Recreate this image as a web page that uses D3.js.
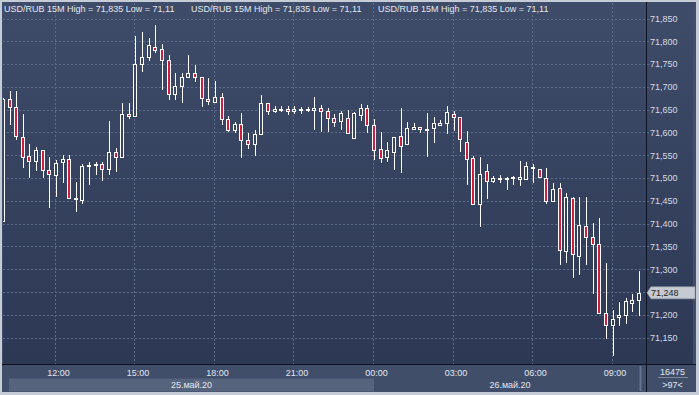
<!DOCTYPE html>
<html>
<head>
<meta charset="utf-8">
<script src="https://cdn.jsdelivr.net/npm/d3@7"></script>
<style>
  html, body { margin: 0; padding: 0; background: #c6ccd7; }
  svg { display: block; font-family: "Liberation Sans", Arial, sans-serif; }
</style>
</head>
<body>
<svg id="chart" width="699" height="395"></svg>
<script>
// 15 minute bars, first one at 10:00 on 25 May
const START = "2020-05-25T10:00";

const OPEN = [
  71.405, 71.673, 71.655, 71.591, 71.548, 71.537, 71.561, 71.517, 71.508, 71.534,
  71.541, 71.455, 71.452, 71.527, 71.527, 71.530, 71.519, 71.556, 71.545, 71.640,
  71.635, 71.750, 71.765, 71.788, 71.782, 71.758, 71.684, 71.702, 71.721, 71.730,
  71.721, 71.673, 71.668, 71.678, 71.629, 71.605, 71.618, 71.583, 71.575, 71.596,
  71.664, 71.646, 71.650, 71.651, 71.646, 71.651, 71.650, 71.649, 71.653, 71.646,
  71.631, 71.624, 71.631, 71.588, 71.637, 71.653, 71.616, 71.564, 71.545, 71.556,
  71.592, 71.574, 71.607, 71.611, 71.607, 71.609, 71.616, 71.620, 71.640, 71.633,
  71.580, 71.543, 71.444, 71.516, 71.492, 71.500, 71.501, 71.502, 71.498, 71.498,
  71.524, 71.519, 71.501, 71.450, 71.477, 71.340, 71.456, 71.330, 71.395, 71.371,
  71.355, 71.203, 71.177, 71.194, 71.199, 71.226, 71.232
];

const HIGH = [
  71.676, 71.691, 71.691, 71.640, 71.574, 71.569, 71.562, 71.546, 71.540, 71.550,
  71.550, 71.491, 71.530, 71.536, 71.536, 71.536, 71.625, 71.565, 71.664, 71.664,
  71.812, 71.821, 71.807, 71.835, 71.793, 71.771, 71.730, 71.731, 71.770, 71.748,
  71.722, 71.719, 71.713, 71.686, 71.635, 71.622, 71.643, 71.598, 71.605, 71.682,
  71.665, 71.658, 71.657, 71.657, 71.657, 71.655, 71.655, 71.678, 71.660, 71.653,
  71.640, 71.648, 71.649, 71.644, 71.662, 71.660, 71.629, 71.601, 71.578, 71.591,
  71.653, 71.622, 71.620, 71.612, 71.642, 71.634, 71.627, 71.658, 71.646, 71.634,
  71.603, 71.548, 71.545, 71.530, 71.505, 71.506, 71.502, 71.505, 71.537, 71.536,
  71.530, 71.520, 71.523, 71.488, 71.490, 71.468, 71.458, 71.459, 71.459, 71.401,
  71.412, 71.314, 71.211, 71.229, 71.237, 71.245, 71.297
];

const LOW = [
  71.403, 71.616, 71.583, 71.523, 71.499, 71.515, 71.499, 71.435, 71.459, 71.489,
  71.454, 71.426, 71.442, 71.485, 71.507, 71.493, 71.507, 71.514, 71.545, 71.629,
  71.634, 71.733, 71.757, 71.774, 71.693, 71.671, 71.671, 71.665, 71.720, 71.710,
  71.655, 71.660, 71.667, 71.616, 71.601, 71.598, 71.543, 71.563, 71.549, 71.595,
  71.638, 71.642, 71.645, 71.638, 71.640, 71.640, 71.645, 71.605, 71.600, 71.600,
  71.613, 71.605, 71.597, 71.587, 71.624, 71.598, 71.539, 71.534, 71.536, 71.518,
  71.512, 71.573, 71.606, 71.598, 71.547, 71.577, 71.615, 71.596, 71.603, 71.556,
  71.485, 71.442, 71.393, 71.455, 71.490, 71.490, 71.474, 71.485, 71.482, 71.497,
  71.488, 71.500, 71.444, 71.449, 71.309, 71.314, 71.281, 71.287, 71.309, 71.245,
  71.202, 71.146, 71.110, 71.175, 71.180, 71.206, 71.198
];

const CLOSE = [
  71.673, 71.655, 71.591, 71.548, 71.537, 71.561, 71.517, 71.508, 71.534, 71.541,
  71.455, 71.456, 71.527, 71.528, 71.530, 71.519, 71.556, 71.545, 71.640, 71.635,
  71.750, 71.765, 71.791, 71.782, 71.758, 71.684, 71.702, 71.721, 71.730, 71.721,
  71.675, 71.668, 71.678, 71.629, 71.605, 71.618, 71.583, 71.575, 71.596, 71.664,
  71.647, 71.651, 71.651, 71.646, 71.651, 71.651, 71.651, 71.653, 71.646, 71.631,
  71.623, 71.642, 71.598, 71.643, 71.653, 71.615, 71.561, 71.545, 71.561, 71.590,
  71.571, 71.609, 71.611, 71.607, 71.608, 71.620, 71.620, 71.644, 71.633, 71.585,
  71.543, 71.443, 71.509, 71.493, 71.499, 71.501, 71.501, 71.502, 71.503, 71.526,
  71.523, 71.501, 71.450, 71.476, 71.340, 71.458, 71.333, 71.397, 71.370, 71.355,
  71.203, 71.177, 71.190, 71.199, 71.230, 71.232, 71.248
];

const Y_TICKS = [71.15, 71.20, 71.25, 71.30, 71.35, 71.40, 71.45, 71.50,
  71.55, 71.60, 71.65, 71.70, 71.75, 71.80, 71.85];

const X_TICKS = ["2020-05-25T12:00", "2020-05-25T15:00", "2020-05-25T18:00", "2020-05-25T21:00",
  "2020-05-26T00:00", "2020-05-26T03:00", "2020-05-26T06:00", "2020-05-26T09:00"];

const DAYS = ["25.май.20", "26.май.20"];
const DAY_STARTS = ["2020-05-25T00:00", "2020-05-26T00:00"];

const TITLE = "USD/RUB 15M High = 71,835 Low = 71,11";
const LAST_PRICE = 71.248;
const BARS_TOTAL = "16475";
const BARS_VISIBLE = ">97<";

const RED = "#cf1f3e";
const GRID = "#5d6c8a";
const TEXT = "#e3e7ee";

// plot box
const plotLeft = 3, plotRight = 646, plotTop = 3, plotBottom = 364.5;

const parse = d3.timeParse("%Y-%m-%dT%H:%M");
const start = parse(START);

const bars = OPEN.map((o, i) => ({
  time: d3.timeMinute.offset(start, 15 * i),
  open: o,
  high: HIGH[i],
  low: LOW[i],
  close: CLOSE[i]
}));

let x = d3.scaleTime()
  .domain([bars[0].time, bars[bars.length - 1].time])
  .range([2.9, 639.1]);

let y = d3.scaleLinear()
  .domain([71.10, 71.85])
  .range([360.3, 18.5]);

const ru = d3.formatLocale({ decimal: ",", thousands: " ", grouping: [3], currency: ["", ""] });
const priceFormat = ru.format(".3f");

const svg = d3.select("#chart");

const defs = svg.append("defs");
const grad = defs.append("linearGradient")
  .attr("id", "bg")
  .attr("gradientUnits", "userSpaceOnUse")
  .attr("x1", 0).attr("y1", plotTop)
  .attr("x2", 0).attr("y2", plotBottom);
grad.append("stop").attr("offset", 0).attr("stop-color", "#3f4c69");
grad.append("stop").attr("offset", 1).attr("stop-color", "#2c3854");

defs.append("clipPath").attr("id", "plotclip")
  .append("rect")
  .attr("x", plotLeft).attr("y", plotTop)
  .attr("width", plotRight - plotLeft).attr("height", plotBottom - plotTop);

// backgrounds
svg.append("rect")
  .attr("x", 2).attr("y", 2).attr("width", 694).attr("height", 390)
  .attr("fill", "#404e6a");
svg.append("rect")
  .attr("x", plotLeft).attr("y", plotTop).attr("width", 693 - plotLeft).attr("height", plotBottom - plotTop)
  .attr("fill", "url(#bg)");

// grid
const grid = svg.append("g")
  .attr("stroke", GRID)
  .attr("stroke-dasharray", "2,2")
  .attr("shape-rendering", "crispEdges");

grid.selectAll("line.h")
  .data(Y_TICKS)
  .join("line")
  .attr("class", "h")
  .attr("x1", plotLeft).attr("x2", plotRight + 4)
  .attr("y1", d => Math.round(y(d)) + 0.5)
  .attr("y2", d => Math.round(y(d)) + 0.5);

grid.selectAll("line.v")
  .data(X_TICKS.map(parse))
  .join("line")
  .attr("class", "v")
  .attr("x1", d => Math.round(x(d)) - 0.5)
  .attr("x2", d => Math.round(x(d)) - 0.5)
  .attr("y1", plotTop).attr("y2", plotBottom);

// title repeated across the top
svg.append("g")
  .selectAll("text")
  .data([4, 191, 378])
  .join("text")
  .attr("x", d => d)
  .attr("y", 11.5)
  .attr("fill", TEXT)
  .attr("font-size", 9)
  .text(TITLE);

// candles
const plot = svg.append("g")
  .attr("clip-path", "url(#plotclip)")
  .attr("shape-rendering", "crispEdges");

const candle = plot.selectAll("g")
  .data(bars)
  .join("g")
  .attr("transform", d => `translate(${Math.round(x(d.time))},0)`);

candle.append("line")
  .attr("x1", 0.5).attr("x2", 0.5)
  .attr("y1", d => y(d.high))
  .attr("y2", d => y(d.low))
  .attr("stroke", "#fff");

candle.append("rect")
  .attr("x", -1.5)
  .attr("width", 3)
  .attr("y", d => Math.round(y(Math.max(d.open, d.close))) + 0.5)
  .attr("height", d => Math.max(0.5, Math.round(Math.abs(y(d.open) - y(d.close)))))
  .attr("fill", d => d.close >= d.open ? "url(#bg)" : RED)
  .attr("stroke", "#fff");

// frame lines
svg.append("line")
  .attr("x1", 2).attr("x2", 696)
  .attr("y1", plotBottom).attr("y2", plotBottom)
  .attr("stroke", "#0d1220");
svg.append("line")
  .attr("x1", plotRight + 0.5).attr("x2", plotRight + 0.5)
  .attr("y1", 2).attr("y2", 392)
  .attr("stroke", "#0d1220");

// date bands under the time axis
const dayStart = DAY_STARTS.map(parse);
const bandX0 = [9, x(dayStart[1])];
const bandX1 = [x(dayStart[1]), plotRight];

svg.append("g")
  .selectAll("rect")
  .data(DAYS)
  .join("rect")
  .attr("x", (d, i) => bandX0[i])
  .attr("width", (d, i) => bandX1[i] - bandX0[i])
  .attr("y", 378.5).attr("height", 13)
  .attr("fill", (d, i) => i % 2 === 0 ? "#56637d" : "none");

svg.append("g")
  .selectAll("text")
  .data(DAYS)
  .join("text")
  .attr("x", (d, i) => (bandX0[i] + bandX1[i]) / 2)
  .attr("y", 387.5)
  .attr("text-anchor", "middle")
  .attr("fill", TEXT)
  .attr("font-size", 9)
  .text(d => d);

// scrollbar edge
svg.append("rect")
  .attr("x", 639.5).attr("y", 366).attr("width", 2).attr("height", 25)
  .attr("fill", "#66738c");

// time axis
let xAxis = g => g
  .attr("transform", `translate(0,${plotBottom})`)
  .call(d3.axisBottom(x).tickValues(X_TICKS.map(parse)).tickFormat(d3.timeFormat("%H:%M")).tickSize(0))
  .call(g => g.select(".domain").remove())
  .call(g => g.selectAll("text")
    .attr("y", 11.5).attr("dy", 0).attr("dx", 2)
    .attr("fill", TEXT)
    .attr("font-size", 9)
    .attr("font-family", null));

// price axis
let yAxis = g => g
  .attr("transform", `translate(650,0)`)
  .call(d3.axisRight(y).tickValues(Y_TICKS).tickFormat(priceFormat).tickSize(0).tickPadding(0))
  .call(g => g.select(".domain").remove())
  .call(g => g.selectAll("text")
    .attr("fill", "#d6dbe4")
    .attr("font-size", 9)
    .attr("font-family", null));

svg.append("g").call(xAxis);
svg.append("g").call(yAxis);

// last price marker
const ly = y(LAST_PRICE);
svg.append("path")
  .attr("d", `M647,${ly} L651,${ly - 6} L695,${ly - 6} L695,${ly + 6} L651,${ly + 6} Z`)
  .attr("fill", "#c6cad2")
  .attr("stroke", "#9aa1ad")
  .attr("stroke-width", 0.6);
svg.append("text")
  .attr("x", 651)
  .attr("y", ly + 3.2)
  .attr("fill", "#222")
  .attr("font-size", 9)
  .text(priceFormat(LAST_PRICE));

// bar counter box
svg.append("text")
  .attr("x", 672.5).attr("y", 375)
  .attr("text-anchor", "middle")
  .attr("fill", TEXT).attr("font-size", 9)
  .text(BARS_TOTAL);
svg.append("line")
  .attr("x1", 658).attr("x2", 688)
  .attr("y1", 377.5).attr("y2", 377.5)
  .attr("stroke", "#7d889c");
svg.append("text")
  .attr("x", 672.5).attr("y", 387.5)
  .attr("text-anchor", "middle")
  .attr("fill", TEXT).attr("font-size", 9)
  .text(BARS_VISIBLE);
</script>
</body>
</html>
